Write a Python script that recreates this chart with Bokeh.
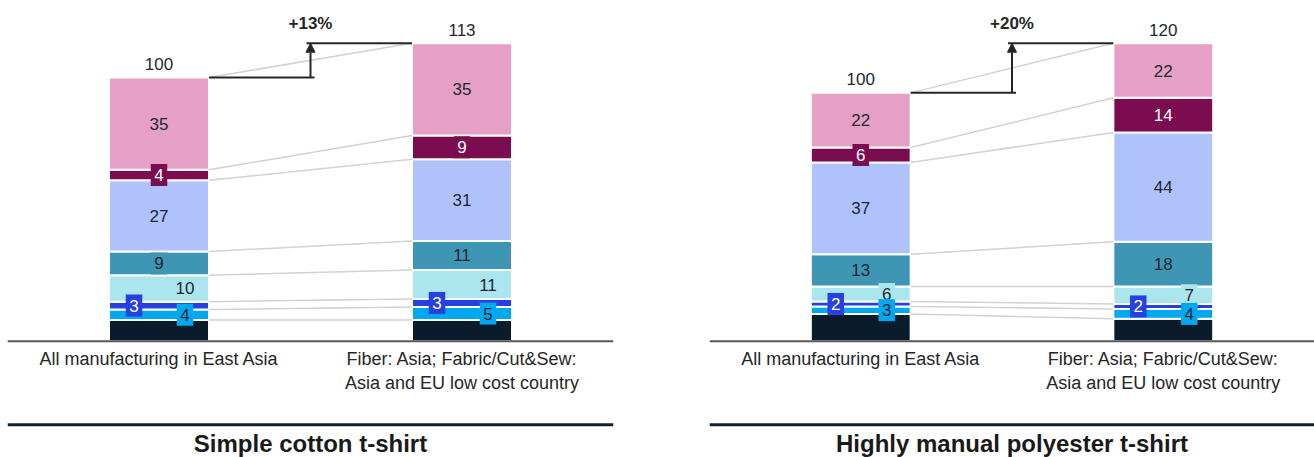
from bokeh.plotting import figure
from bokeh.layouts import row
from bokeh.models import Range1d, Arrow, NormalHead
from bokeh.core.properties import value
from bokeh.embed import file_html
from bokeh.resources import INLINE

# ---- data -------------------------------------------------------------
categories = ["All manufacturing in East Asia",
              "Fiber: Asia; Fabric/Cut&Sew:\nAsia and EU low cost country"]

layers = ["navy", "blue", "royal", "cyan", "teal", "lavender", "plum", "pink"]

cotton_navy = [8, 8]
cotton_blue = [4, 5]
cotton_royal = [3, 3]
cotton_cyan = [10, 11]
cotton_teal = [9, 11]
cotton_lavender = [27, 31]
cotton_plum = [4, 9]
cotton_pink = [35, 35]
cotton_totals = [100, 113]
cotton_change = "+13%"
cotton_title = "Simple cotton t-shirt"

poly_navy = [11, 9]
poly_blue = [3, 4]
poly_royal = [2, 2]
poly_cyan = [6, 7]
poly_teal = [13, 18]
poly_lavender = [37, 44]
poly_plum = [6, 14]
poly_pink = [22, 22]
poly_totals = [100, 120]
poly_change = "+20%"
poly_title = "Highly manual polyester t-shirt"

# ---- styling ----------------------------------------------------------
COLORS = {
    "navy": "#0a1c2b",
    "blue": "#00a8f0",
    "royal": "#2740e2",
    "cyan": "#abe5ee",
    "teal": "#3e95b4",
    "lavender": "#afc2fb",
    "plum": "#7b0c4f",
    "pink": "#e6a0c5",
}
TEXT_DARK = "#1c2733"
LABEL_COLOR = {k: TEXT_DARK for k in layers}
LABEL_COLOR["plum"] = "white"
LABEL_COLOR["royal"] = "white"
LABEL_DX = {k: 0 for k in layers}       # horizontal label shift, px
LABEL_DX["royal"] = -25
LABEL_DX["cyan"] = 26
LABEL_DX["blue"] = 26
FONT = value("Liberation Sans")

H = 457
BASE_PX = 340.7      # baseline distance from the top
TOP_PX = 42.7        # top of the tallest stack
BAR_W = 0.33


def make_panel(series, totals, change, title, left, right, width=657):
    ppu = (BASE_PX - TOP_PX) / max(totals)      # pixels per unit
    frame_w = width - left - right
    xppu = frame_w / 2.0

    def dy(px):
        return px / ppu

    def dx(px):
        return px / xppu

    p = figure(width=width, height=H, output_backend="svg", toolbar_location=None,
               x_axis_type=None, y_axis_type=None,
               x_range=Range1d(-0.5, 1.5),
               y_range=Range1d(-(H - BASE_PX) / ppu, BASE_PX / ppu),
               min_border_left=left, min_border_right=right,
               min_border_top=0, min_border_bottom=0)
    p.outline_line_color = None
    p.background_fill_color = "white"
    p.border_fill_color = "white"

    xs = [0, 1]
    hw = BAR_W / 2

    # stacked segments
    bottoms = [0, 0]
    bounds = {}
    for name in layers:
        vals = series[name]
        tops = [b + v for b, v in zip(bottoms, vals)]
        p.vbar(x=xs, width=BAR_W, bottom=bottoms, top=tops,
               fill_color=COLORS[name], line_color="white", line_width=2)
        bounds[name] = (list(bottoms), tops)
        bottoms = tops

    # connectors between matching segment boundaries
    x0s, y0s, x1s, y1s = [], [], [], []
    for name in layers:
        _, tops = bounds[name]
        x0s.append(hw)
        y0s.append(tops[0])
        x1s.append(1 - hw)
        y1s.append(tops[1])
    p.segment(x0=x0s, y0=y0s, x1=x1s, y1=y1s, line_color="#d2d2d2", line_width=1.5)

    # baseline and section rule
    p.segment(x0=[-0.5], y0=[0], x1=[1.5], y1=[0], line_color="#595959", line_width=2)
    rule_y = -dy(424.3 - BASE_PX)
    p.segment(x0=[-0.5], y0=[rule_y], x1=[1.5], y1=[rule_y], line_color="#0d2233", line_width=3)

    # segment labels, drawn from the top layer downwards
    for name in reversed(layers):
        if name == "navy":
            continue
        bots, tops = bounds[name]
        vals = series[name]
        lx = [x + dx(LABEL_DX[name]) for x in xs]
        ly = [(b + t) / 2 for b, t in zip(bots, tops)]
        wid = [7 + 9.5 * len(str(v)) for v in vals]
        p.rect(x=lx, y=ly, width=wid, height=22, width_units="screen", height_units="screen",
               fill_color=COLORS[name], line_color=None)
        p.text(x=lx, y=ly, text=[str(v) for v in vals], text_font=FONT,
               text_font_size="17px", text_color=LABEL_COLOR[name],
               text_align="center", text_baseline="middle")

    # totals above the stacks
    p.text(x=xs, y=[t + dy(13.5) for t in totals], text=[str(t) for t in totals],
           text_font=FONT, text_font_size="17px", text_color=TEXT_DARK,
           text_align="center", text_baseline="middle")

    # change indicator
    ink = "#262626"
    p.segment(x0=[hw, 0.5 - dx(4)], y0=[totals[0], totals[1]],
              x1=[0.5 + dx(4), 1 - hw], y1=[totals[0], totals[1]],
              line_color=ink, line_width=2)
    p.add_layout(Arrow(end=NormalHead(size=9, fill_color=ink, line_color=ink),
                       x_start=0.5, y_start=totals[0], x_end=0.5, y_end=totals[1],
                       line_color=ink, line_width=2))
    p.text(x=[0.5], y=[totals[1] + dy(20)], text=[change], text_font=FONT,
           text_font_size="17px", text_font_style="bold", text_color=ink,
           text_align="center", text_baseline="middle")

    # category labels under the baseline
    p.text(x=xs, y=[-dy(348 - BASE_PX)] * 2, text=categories, text_font=FONT,
           text_font_size="18px", text_color="#262626", text_align="center",
           text_baseline="top", text_line_height=1.2)

    # panel title
    p.text(x=[0.5], y=[-dy(443 - BASE_PX)], text=[title], text_font=FONT,
           text_font_size="24px", text_font_style="bold", text_color="#1a1a1a",
           text_align="center", text_baseline="middle")
    return p


cotton = {"navy": cotton_navy, "blue": cotton_blue, "royal": cotton_royal,
          "cyan": cotton_cyan, "teal": cotton_teal, "lavender": cotton_lavender,
          "plum": cotton_plum, "pink": cotton_pink}
poly = {"navy": poly_navy, "blue": poly_blue, "royal": poly_royal,
        "cyan": poly_cyan, "teal": poly_teal, "lavender": poly_lavender,
        "plum": poly_plum, "pink": poly_pink}

p1 = make_panel(cotton, cotton_totals, cotton_change, cotton_title, left=7, right=44)
p2 = make_panel(poly, poly_totals, poly_change, poly_title, left=52, right=0)

layout = row(p1, p2)
open("out.html", "w").write(file_html(layout, INLINE))
